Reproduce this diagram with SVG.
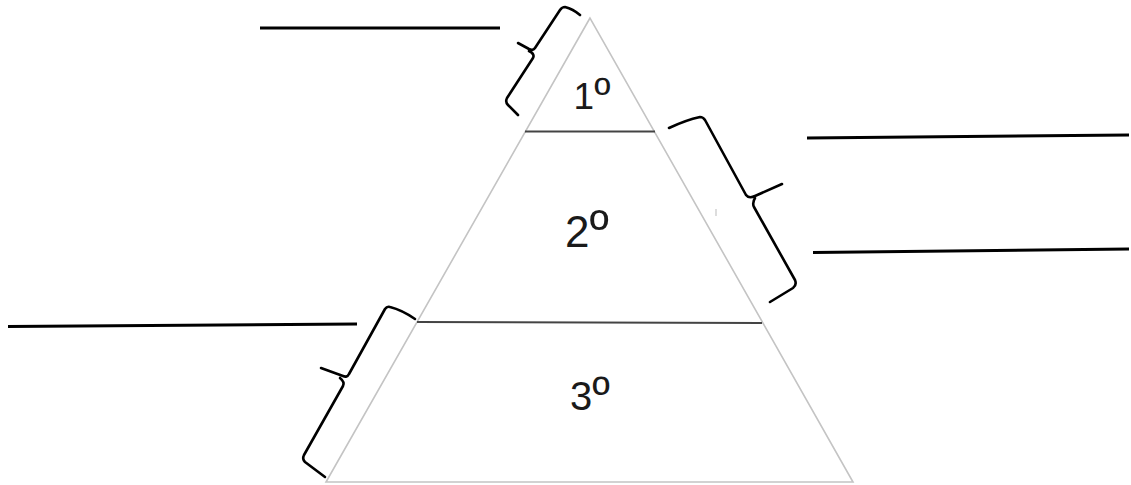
<svg xmlns="http://www.w3.org/2000/svg" width="1131" height="485" viewBox="0 0 1131 485">
<style>
.tri{fill:none;stroke:#c4c4c4;stroke-width:1.6;stroke-linejoin:miter}
.div{stroke:#444;stroke-width:2;fill:none}
.brace{fill:none;stroke:#000;stroke-width:2.6;stroke-linecap:round;stroke-linejoin:round}
.blank{stroke:#000;stroke-width:3;stroke-linecap:butt}
.lbl{font-family:"Liberation Sans",Arial,sans-serif;fill:#1a1a1a;text-anchor:middle}
.ord{font-size:1.2em}
</style>
<rect width="1131" height="485" fill="#fff"/>
<g id="pyramid">
<polygon class="tri" points="590,18 326,482 853,482"/>
</g>
<g id="level1">
<line class="div" x1="525" y1="131.5" x2="655" y2="131.5"/>
<text class="lbl" x="592" y="109" font-size="37">1<tspan class="ord">º</tspan></text>
</g>
<g id="level2">
<line class="div" x1="417" y1="322" x2="762" y2="323"/>
<text class="lbl" x="587" y="247" font-size="44">2<tspan class="ord">º</tspan></text>
</g>
<g id="level3">
<text class="lbl" x="590" y="410" font-size="40">3<tspan class="ord">º</tspan></text>
</g>
<g id="connectors">
<path class="brace" d="M580,15 Q573,9 565,7 Q562,7 560,10 L535,48 Q533,51 529,49 L518,43 M529,51 Q535,54 533,58 L507,98 Q505,102 508,105 L518,115"/>
<path class="brace" d="M669,128 Q686,120 700,117 Q703,117 705,120 L746,195 Q749,199 755,196 L782,184 M755,198 Q752,203 754,207 L795,280 Q797,285 793,288 L770,302"/>
<path class="brace" d="M415,319 Q402,310 390,307 Q387,306 385,309 L349,374 Q347,378 343,376 L321,368 M340,378 Q345,382 343,386 L304,455 Q302,459 305,462 L325,477"/>
<line class="blank" x1="260" y1="28" x2="500" y2="28"/>
<line class="blank" x1="807" y1="138" x2="1129" y2="135"/>
<line class="blank" x1="813" y1="252.5" x2="1129" y2="249"/>
<line class="blank" x1="8" y1="326.5" x2="357" y2="324"/>
<line x1="716" y1="209" x2="716" y2="216" stroke="#bbb" stroke-width="1"/>
</g>
</svg>
